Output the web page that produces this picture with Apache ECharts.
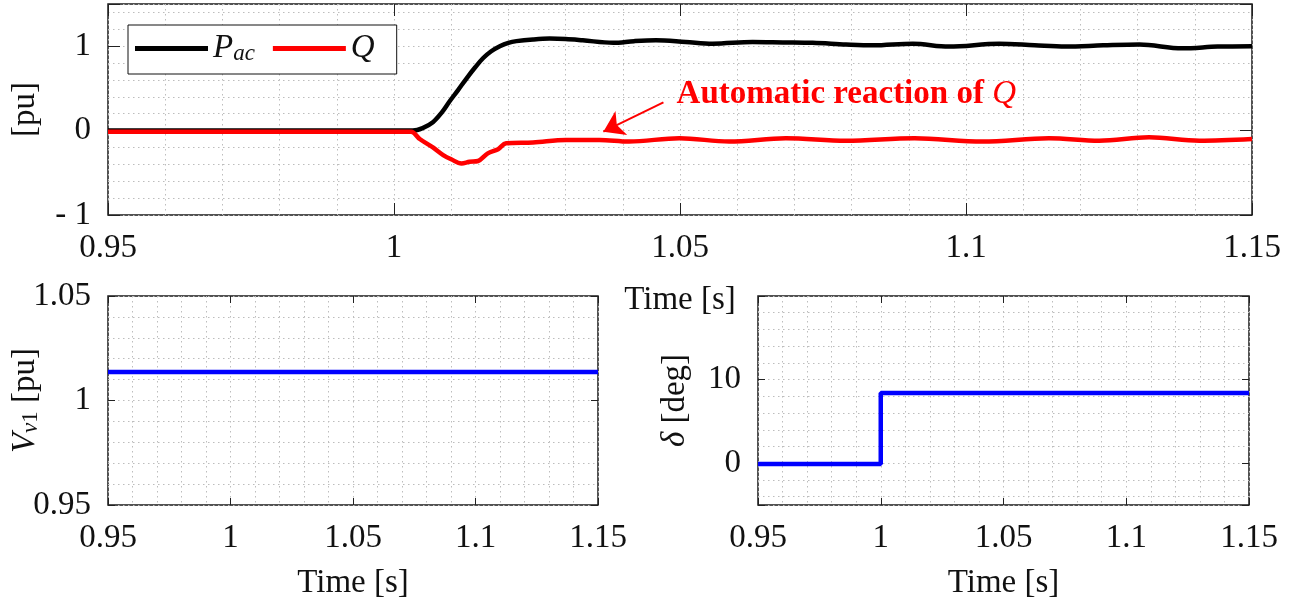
<!DOCTYPE html>
<html>
<head>
<meta charset="utf-8">
<script src="https://cdn.jsdelivr.net/npm/echarts@6/dist/echarts.min.js"></script>
<style>
  html, body { margin: 0; padding: 0; background: #fff; }
  #chart { width: 1305px; height: 605px; }
</style>
</head>
<body>
<div id="chart"></div>
<script>
// P_ac response (time [s], value [pu])
const pacTime = [0.95, 0.97, 1.0, 1.0033, 1.005, 1.0068, 1.0083, 1.0097, 1.0112, 1.0127, 1.0142, 1.0156, 1.017, 1.0185, 1.02, 1.0214, 1.0243, 1.0272, 1.03, 1.033, 1.0383, 1.042, 1.0458, 1.051, 1.0557, 1.0627, 1.068, 1.0732, 1.079, 1.0837, 1.0907, 1.097, 1.1058, 1.112, 1.1174, 1.124, 1.1303, 1.1378, 1.144, 1.15]
const pacValues = [0, 0, 0, 0, 0.03, 0.1, 0.21, 0.345, 0.48, 0.62, 0.75, 0.86, 0.94, 1.0, 1.04, 1.06, 1.08, 1.09, 1.085, 1.07, 1.04, 1.06, 1.07, 1.05, 1.03, 1.05, 1.045, 1.04, 1.02, 1.01, 1.03, 0.995, 1.03, 1.01, 0.995, 1.01, 1.02, 0.975, 0.995, 1.0]

// Q response
const qTime = [0.95, 1.0, 1.003, 1.0045, 1.0068, 1.0086, 1.01, 1.0118, 1.0132, 1.0147, 1.0164, 1.0182, 1.0196, 1.0243, 1.0301, 1.0359, 1.0411, 1.0499, 1.0586, 1.0685, 1.079, 1.091, 1.1029, 1.1145, 1.1233, 1.132, 1.1408, 1.15]
const qValues = [-0.015, -0.015, -0.015, -0.1, -0.2, -0.29, -0.34, -0.39, -0.37, -0.36, -0.27, -0.22, -0.15, -0.14, -0.11, -0.11, -0.13, -0.09, -0.13, -0.09, -0.12, -0.09, -0.13, -0.09, -0.12, -0.08, -0.12, -0.1]

// V_v1
const vTime = [0.95, 1.15]
const vValues = [1.0136, 1.0136]

// delta
const deltaTime = [0.95, 1.0, 1.0, 1.15]
const deltaValues = [-0.1, -0.1, 8.4, 8.4]

// tick labels
const topYLabels = [-1, 0, 1]
const vLabels = [0.95, 1, 1.05]
const deltaLabels = [0, 10]

const FONT = "Liberation Serif"
const TXT = "#111"
const GRIDC = "#bdbdbd"
const zip = (xs, ys) => xs.map((x, i) => [x, ys[i]])

const dotted = { show: true, lineStyle: { color: GRIDC, width: 1, type: [1.5, 3.5] } }
const off = { show: false }
const noLine = { show: false, onZero: false }

function xMain(gridIndex, tickLen, nameGap) {
  return {
    type: "value", gridIndex, position: "bottom",
    min: 0.95, max: 1.15, interval: 0.05,
    axisLine: noLine,
    axisTick: { show: true, inside: true, length: tickLen, lineStyle: { color: "#222", width: 1 } },
    axisLabel: {
      margin: 17, color: TXT, fontFamily: FONT, fontSize: 33,
      formatter: (v) => String(parseFloat(v.toFixed(2)))
    },
    splitLine: dotted,
    minorTick: { show: false, splitNumber: 5 },
    minorSplitLine: dotted,
    name: "Time [s]", nameLocation: "middle", nameGap, nameMoveOverlap: false,
    nameTextStyle: { color: TXT, fontFamily: FONT, fontSize: 33 }
  }
}

function xTop(gridIndex, tickLen) {
  return {
    type: "value", gridIndex, position: "top",
    min: 0.95, max: 1.15, interval: 0.05,
    axisLine: noLine, axisLabel: off, splitLine: off,
    axisTick: { show: true, inside: true, length: tickLen, lineStyle: { color: "#222", width: 1 } }
  }
}

function yTicks(gridIndex, position, min, max, interval, tickLen, extra) {
  return Object.assign({
    type: "value", gridIndex, position, min, max, interval,
    axisLine: noLine, splitLine: off, axisLabel: off,
    axisTick: { show: true, inside: true, length: tickLen, lineStyle: { color: "#222", width: 1 } }
  }, extra || {})
}

function yGrid(gridIndex, min, max, interval, extra) {
  return Object.assign({
    type: "value", gridIndex, position: "left", min, max, interval,
    axisLine: noLine, axisTick: off, axisLabel: off,
    splitLine: dotted
  }, extra || {})
}

const yLabelStyle = { margin: 17, color: TXT, fontFamily: FONT, fontSize: 33 }
const nameStyle = {
  color: TXT, fontFamily: FONT, fontSize: 33,
  rich: {
    i: { fontFamily: FONT, fontSize: 33, fontStyle: "italic", color: TXT },
    si: { fontFamily: FONT, fontSize: 23, fontStyle: "italic", color: TXT, verticalAlign: "bottom" },
    sr: { fontFamily: FONT, fontSize: 23, color: TXT, verticalAlign: "bottom" },
    n: { fontFamily: FONT, fontSize: 33, color: TXT }
  }
}
const isLabel = (list, v) => list.some((l) => Math.abs(l - v) < 1e-9)

const chart = echarts.init(document.getElementById("chart"), null, { renderer: "canvas" })

const gridBase = { show: true, borderColor: "#1a1a1a", borderWidth: 1.5, backgroundColor: "#fff", containLabel: false, outerBoundsMode: "none" }

const option = {
  animation: false,
  backgroundColor: "#fff",
  textStyle: { fontFamily: FONT },
  grid: [
    Object.assign({ left: 108, top: 4, width: 1144, height: 211 }, gridBase),
    Object.assign({ left: 108, top: 296, width: 490, height: 209 }, gridBase),
    Object.assign({ left: 758, top: 296, width: 491, height: 209 }, gridBase)
  ],
  legend: {
    left: 128, top: 25,
    padding: [7, 22, 9, 7],
    icon: "rect",
    itemWidth: 73, itemHeight: 5, itemGap: 18,
    backgroundColor: "#fff", borderColor: "#111", borderWidth: 1,
    data: ["Pac", "Q"],
    formatter: (name) => (name === "Pac" ? "{i|P}{si|ac}" : "{i|Q}"),
    textStyle: nameStyle
  },
  xAxis: [
    xMain(0, 12, 69), xTop(0, 12),
    xMain(1, 7, 62), xTop(1, 7),
    xMain(2, 7, 62), xTop(2, 7)
  ],
  yAxis: [
    // 0: top plot, labels + left ticks
    yTicks(0, "left", -1, 1.5, 1, 12, {
      axisLabel: Object.assign({}, yLabelStyle, {
        formatter: (v) => (isLabel(topYLabels, v) ? (v < 0 ? "- " + Math.abs(Math.round(v)) : String(Math.round(v))) : "")
      }),
      name: "[pu]", nameLocation: "middle", nameGap: 66, nameMoveOverlap: false, nameTextStyle: nameStyle
    }),
    // 1: top plot, right ticks
    yTicks(0, "right", -1, 1.5, 1, 12),
    // 2: top plot, dotted grid
    yGrid(0, -1, 1.5, 0.2),
    // 3: V plot, labels + left ticks + grid
    yTicks(1, "left", 0.95, 1.05, 0.05, 7, {
      axisLabel: Object.assign({}, yLabelStyle, {
        formatter: (v) => (isLabel(vLabels, v) ? String(parseFloat(v.toFixed(2))) : "")
      }),
      splitLine: dotted,
      minorTick: { show: false, splitNumber: 5 },
      minorSplitLine: dotted,
      name: "{i|V}{si|v}{sr|1} [pu]", nameLocation: "middle", nameGap: 66, nameMoveOverlap: false, nameTextStyle: nameStyle
    }),
    // 4: V plot, right ticks
    yTicks(1, "right", 0.95, 1.05, 0.05, 7),
    // 5: delta plot, data axis
    {
      type: "value", gridIndex: 2, position: "left", min: -5, max: 20,
      axisLine: noLine, axisTick: off, axisLabel: off, splitLine: off
    },
    // 6: delta plot, labels + left ticks (mirrored scale so ticks sit on multiples)
    yTicks(2, "left", -20, 5, 10, 7, {
      inverse: true,
      axisLabel: Object.assign({}, yLabelStyle, {
        formatter: (v) => (isLabel(deltaLabels, -v) ? String(Math.round(Math.abs(v))) : "")
      }),
      name: "{i|δ} [deg]", nameLocation: "middle", nameGap: 66, nameMoveOverlap: false, nameTextStyle: nameStyle
    }),
    // 7: delta plot, right ticks
    yTicks(2, "right", -20, 5, 10, 7, { inverse: true }),
    // 8: delta plot, dotted grid
    yGrid(2, -20, 5, 2, { inverse: true })
  ],
  series: [
    {
      name: "Pac", type: "line", xAxisIndex: 0, yAxisIndex: 0,
      data: zip(pacTime, pacValues),
      showSymbol: false, symbol: "none", smooth: 0.35,
      lineStyle: { color: "#000", width: 4.5 }, itemStyle: { color: "#000" }
    },
    {
      name: "Q", type: "line", xAxisIndex: 0, yAxisIndex: 0,
      data: zip(qTime, qValues),
      showSymbol: false, symbol: "none", smooth: 0.35,
      lineStyle: { color: "#ff0000", width: 4.5 }, itemStyle: { color: "#ff0000" },
      markLine: {
        silent: true, animation: false,
        symbol: ["none", "arrow"], symbolSize: 20,
        label: off,
        lineStyle: { color: "#ff0000", width: 2, type: "solid" },
        data: [[{ coord: [1.0471, 0.335] }, { coord: [1.0366, -0.013] }]]
      },
      markPoint: {
        silent: true, animation: false,
        data: [{
          coord: [1.0494, 0.425], symbol: "circle", symbolSize: 0,
          label: {
            show: true, position: "right", distance: 0,
            formatter: "{b|Automatic reaction of }{q|Q}",
            rich: {
              b: { fontFamily: FONT, fontSize: 33, fontWeight: "bold", color: "#ff0000" },
              q: { fontFamily: FONT, fontSize: 33, fontStyle: "italic", color: "#ff0000" }
            }
          }
        }]
      }
    },
    {
      name: "V", type: "line", xAxisIndex: 2, yAxisIndex: 3,
      data: zip(vTime, vValues),
      showSymbol: false, symbol: "none",
      lineStyle: { color: "#0000ff", width: 4.5 }
    },
    {
      name: "delta", type: "line", xAxisIndex: 4, yAxisIndex: 5,
      data: zip(deltaTime, deltaValues),
      showSymbol: false, symbol: "none",
      lineStyle: { color: "#0000ff", width: 4.5 }
    }
  ]
}

chart.setOption(option)
</script>
</body>
</html>
